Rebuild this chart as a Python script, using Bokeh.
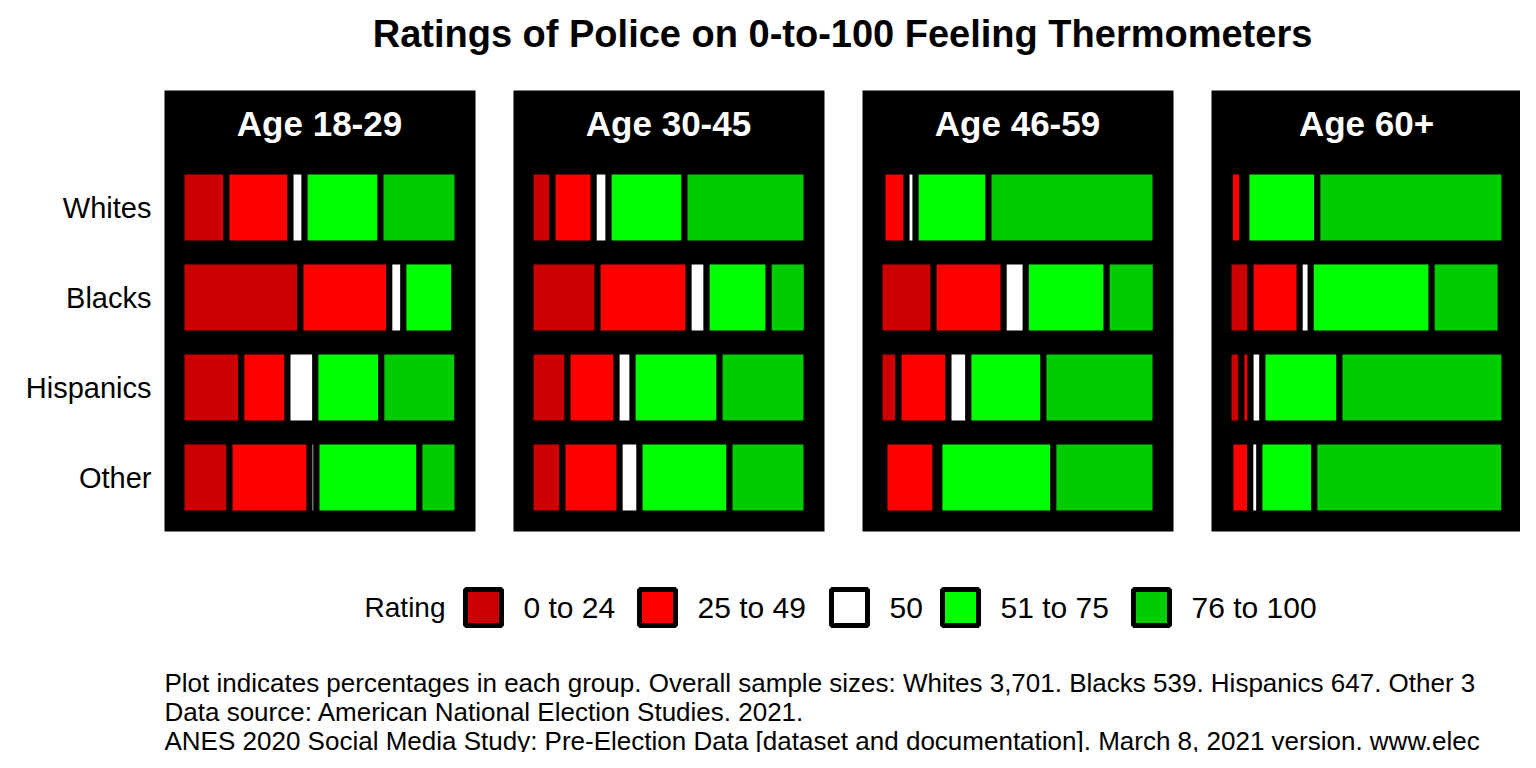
from bokeh.plotting import figure
from bokeh.models import Range1d, ColumnDataSource
from bokeh.embed import file_html
from bokeh.resources import INLINE
from bokeh.core.properties import value

ages = ["Age 18-29", "Age 30-45", "Age 46-59", "Age 60+"]
groups = ["Whites", "Blacks", "Hispanics", "Other"]
bins = ["0 to 24", "25 to 49", "50", "51 to 75", "76 to 100"]
colors = ["#CC0000", "#FF0000", "#FFFFFF", "#00FF00", "#00CC00"]
# percentages [age][group][bin]
pct = [
    [[16.3, 23.2, 5.1, 27.5, 27.9], [43.1, 32.2, 5.1, 18.5, 1.1],
     [21.7, 16.7, 10.1, 23.9, 27.5], [17.4, 29.0, 2.5, 37.3, 13.8]],
    [[8.0, 14.9, 5.4, 27.5, 44.2], [24.3, 33.0, 6.5, 22.5, 13.8],
     [13.4, 17.8, 5.8, 31.5, 31.5], [11.6, 20.7, 7.2, 32.6, 27.9]],
    [[1.1, 8.7, 3.3, 26.4, 60.5], [19.6, 25.4, 8.0, 29.3, 17.8],
     [6.9, 18.1, 7.2, 27.2, 40.6], [1.8, 18.5, 1.4, 41.3, 37.0]],
    [[0.5, 4.5, 1.5, 25.7, 67.8], [8.0, 17.8, 4.0, 43.8, 25.0],
     [4.7, 3.3, 4.3, 27.9, 59.8], [0.7, 7.2, 3.3, 19.9, 68.8]],
]
notes = [
    "Plot indicates percentages in each group. Overall sample sizes: Whites 3,701. Blacks 539. Hispanics 647. Other 3",
    "Data source: American National Election Studies. 2021.",
    "ANES 2020 Social Media Study: Pre-Election Data [dataset and documentation]. March 8, 2021 version. www.elec",
]

FONT = value("Liberation Sans")
W, H = 1520, 752
p = figure(width=W, height=H, output_backend="svg", toolbar_location=None,
           x_range=Range1d(0, W), y_range=Range1d(H, 0),
           min_border=0, outline_line_color=None)
p.axis.visible = False
p.grid.visible = False

scale = 2.76
panel_x0 = [181 + 349 * i for i in range(4)]
row_y = [207 + 90 * j for j in range(4)]

p.quad(left=[x - 17 for x in panel_x0], right=[x + 294 for x in panel_x0],
       top=[90] * 4, bottom=[531] * 4, fill_color="black", line_color=None)
p.text(x=[x + 138 for x in panel_x0], y=[123] * 4, text=ages, text_color="white",
       text_font=FONT, text_font_style="bold", text_font_size="35px",
       text_align="center", text_baseline="middle")

L, R, Y, C = [], [], [], []
for a in range(4):
    for g in range(4):
        cum = 0.0
        for b in range(5):
            v = pct[a][g][b]
            L.append(panel_x0[a] + cum * scale)
            R.append(panel_x0[a] + (cum + v) * scale)
            Y.append(row_y[g]); C.append(colors[b])
            cum += v
src = ColumnDataSource(dict(left=L, right=R, y=Y, c=C))
p.hbar(y="y", left="left", right="right", height=72, fill_color="c",
       line_color="black", line_width=6, source=src)

p.text(x=[151] * 4, y=row_y, text=groups, text_font=FONT, text_font_size="29px",
       text_align="right", text_baseline="middle", text_color="black")

p.text(x=[842], y=[33], text=["Ratings of Police on 0-to-100 Feeling Thermometers"],
       text_font=FONT, text_font_style="bold", text_font_size="38px",
       text_align="center", text_baseline="middle", text_color="black")

key_x = [483, 657, 849, 960, 1151]
p.text(x=[445], y=[607], text=["Rating"], text_font=FONT, text_font_size="28px",
       text_align="right", text_baseline="middle", text_color="black")
p.rect(x=key_x, y=[607] * 5, width=36, height=36, fill_color=colors,
       line_color="black", line_width=5)
p.text(x=[k + 40 for k in key_x], y=[607] * 5, text=bins, text_font=FONT,
       text_font_size="30px", text_align="left", text_baseline="middle", text_color="black")

p.text(x=[164] * 3, y=[682, 711, 740], text=notes, text_font=FONT, text_font_size="26px",
       text_align="left", text_baseline="middle", text_color="black")

open("out.html", "w").write(file_html(p, INLINE))
